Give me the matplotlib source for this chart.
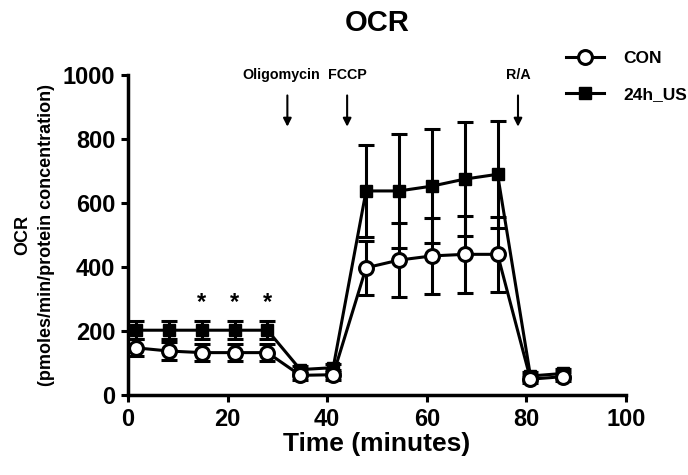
import numpy as np
import matplotlib.pyplot as plt
from matplotlib.lines import Line2D

plt.rcParams['font.family'] = ['Liberation Sans', 'DejaVu Sans']
plt.rcParams['font.weight'] = 'bold'

# time points (minutes)
t = [1.6, 8.2, 14.8, 21.4, 28.0, 34.6, 41.2, 47.8, 54.4, 61.0, 67.6, 74.2, 80.8, 87.4]

# CON
con = [148, 138, 133, 133, 133, 62, 64, 398, 422, 435, 440, 440, 50, 58]
con_err = [27, 27, 27, 27, 27, 15, 15, 85, 116, 120, 121, 118, 12, 15]

# 24h_US
us = [203, 203, 203, 203, 203, 80, 86, 638, 638, 653, 675, 690, 60, 68]
us_err = [28, 28, 28, 28, 28, 12, 12, 145, 177, 178, 178, 168, 12, 15]

star_x = [14.8, 21.4, 28.0]
star_y = 290

injections = ['Oligomycin', 'FCCP', 'R/A']
inj_x = [32, 44, 78.3]
label_dx = [-1.3, 0, 0]

fig = plt.figure(figsize=(6.88, 4.75), dpi=100)
ax = fig.add_axes([0.186, 0.168, 0.724, 0.674])

ax.errorbar(t, us, yerr=us_err, color='black', lw=2.2, marker='s', ms=8.5,
            mfc='black', mec='black', capsize=6, capthick=2.2, elinewidth=2.2,
            zorder=3)
ax.errorbar(t, con, yerr=con_err, color='black', lw=2.2, marker='o', ms=10,
            mfc='white', mec='black', mew=2.2, capsize=6, capthick=2.2,
            elinewidth=2.2, zorder=4)

for sx in star_x:
    ax.text(sx, star_y, '*', ha='center', va='center', fontsize=17, fontweight='bold')

for name, x, dx in zip(injections, inj_x, label_dx):
    ax.annotate('', xy=(x, 830), xytext=(x, 945),
                arrowprops=dict(arrowstyle='-|>', color='black', lw=1.5,
                                mutation_scale=12),
                annotation_clip=False)
    ax.text(x + dx, 1000, name, ha='center', va='center', fontsize=10.3,
            fontweight='bold', clip_on=False)

ax.set_xlim(0, 100)
ax.set_ylim(0, 1000)
ax.set_xticks([0, 20, 40, 60, 80, 100])
ax.set_yticks([0, 200, 400, 600, 800, 1000])
ax.tick_params(labelsize=17, width=2.2, length=5, direction='out', pad=4)
for lbl in ax.get_xticklabels() + ax.get_yticklabels():
    lbl.set_fontweight('bold')
ax.spines['top'].set_visible(False)
ax.spines['right'].set_visible(False)
ax.spines['left'].set_linewidth(2.5)
ax.spines['bottom'].set_linewidth(2.5)

ax.set_title('OCR', fontsize=21, fontweight='bold', pad=32)
ax.set_xlabel('Time (minutes)', fontsize=19, fontweight='bold', labelpad=1)
ax.set_ylabel('OCR\n(pmoles/min/protein concentration)', fontsize=13,
              fontweight='bold', labelpad=6, linespacing=1.5)

handles = [
    Line2D([], [], color='black', lw=2.2, marker='o', ms=10, mfc='white',
           mec='black', mew=2.2),
    Line2D([], [], color='black', lw=2.2, marker='s', ms=8.5, mfc='black',
           mec='black'),
]
fig.legend(handles, ['CON', '24h_US'], loc='upper left',
           bbox_to_anchor=(0.8, 0.925), frameon=False,
           handlelength=2.2, handletextpad=1.1, labelspacing=1.2,
           borderpad=0.4, prop={'weight': 'bold', 'size': 12.5})

plt.savefig('out.png', dpi=100)
